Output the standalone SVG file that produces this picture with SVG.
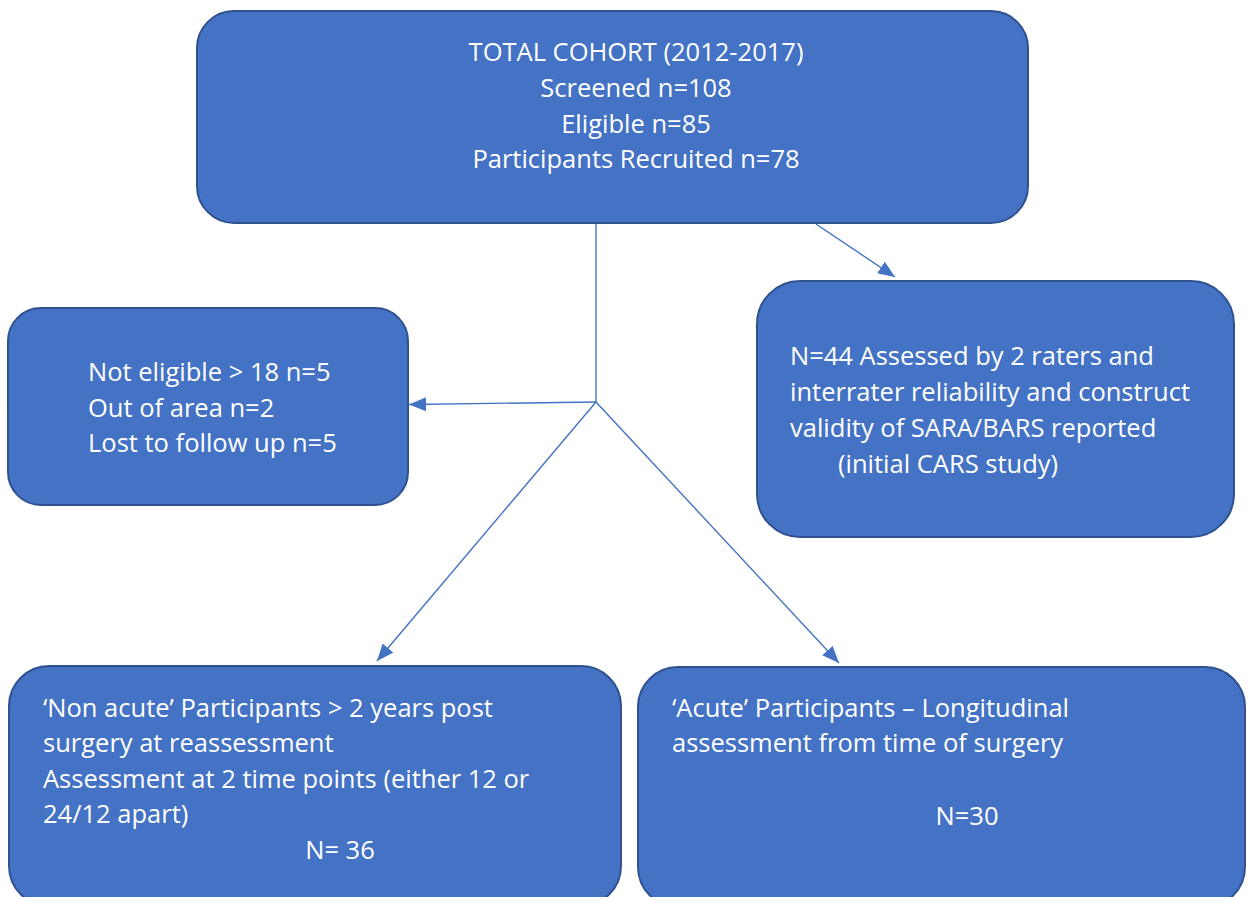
<svg xmlns="http://www.w3.org/2000/svg" width="1249" height="897" viewBox="0 0 1249 897">
  <style>
    .box { fill: #4472C4; stroke: #2F528F; stroke-width: 2; }
    .t { fill: #FFFFFF; font-family: "Open Sans", "Liberation Sans", sans-serif; font-size: 25.5px; }
    .c { text-anchor: middle; }
    .conn { stroke: #4472C4; stroke-width: 1.4; fill: none; }
  </style>
  <defs>
    <marker id="arrow" markerUnits="userSpaceOnUse" markerWidth="18" markerHeight="14" refX="17" refY="7" orient="auto">
      <path d="M0,0 L17,7 L0,14 Z" fill="#4472C4"/>
    </marker>
  </defs>
  <rect width="1249" height="897" fill="#FFFFFF"/>

  <g id="connectors">
    <line class="conn" x1="596" y1="224" x2="596" y2="402"/>
    <line class="conn" x1="596" y1="402" x2="409" y2="404.5" marker-end="url(#arrow)"/>
    <line class="conn" x1="596" y1="402" x2="377" y2="661" marker-end="url(#arrow)"/>
    <line class="conn" x1="596" y1="402" x2="839" y2="663" marker-end="url(#arrow)"/>
    <line class="conn" x1="816" y1="224" x2="895" y2="277" marker-end="url(#arrow)"/>
  </g>

  <g id="total-cohort">
    <rect class="box" x="197" y="11" width="831" height="212" rx="37" ry="37"/>
    <text class="t c" x="636" y="61">TOTAL COHORT (2012-2017)</text>
    <text class="t c" x="636" y="97">Screened n=108</text>
    <text class="t c" x="636" y="133">Eligible n=85</text>
    <text class="t c" x="636" y="168">Participants Recruited n=78</text>
  </g>

  <g id="excluded">
    <rect class="box" x="8" y="308" width="400" height="197" rx="33" ry="33"/>
    <text class="t" x="88" y="381">Not eligible &gt; 18 n=5</text>
    <text class="t" x="88" y="417">Out of area n=2</text>
    <text class="t" x="88" y="452">Lost to follow up n=5</text>
  </g>

  <g id="assessed-44">
    <rect class="box" x="757" y="281" width="477" height="256" rx="43" ry="43"/>
    <text class="t" x="790" y="365">N=44 Assessed by 2 raters and</text>
    <text class="t" x="790" y="401">interrater reliability and construct</text>
    <text class="t" x="790" y="437">validity of SARA/BARS reported</text>
    <text class="t" x="838" y="473">(initial CARS study)</text>
  </g>

  <g id="non-acute">
    <rect class="box" x="9" y="666" width="612" height="240" rx="40" ry="40"/>
    <text class="t" x="43" y="717">‘Non acute’ Participants &gt; 2 years post</text>
    <text class="t" x="43" y="752">surgery at reassessment</text>
    <text class="t" x="43" y="788">Assessment at 2 time points (either 12 or</text>
    <text class="t" x="43" y="823">24/12 apart)</text>
    <text class="t c" x="340" y="859">N= 36</text>
  </g>

  <g id="acute">
    <rect class="box" x="638" y="667" width="607" height="240" rx="40" ry="40"/>
    <text class="t" x="672" y="717">‘Acute’ Participants – Longitudinal</text>
    <text class="t" x="672" y="752">assessment from time of surgery</text>
    <text class="t c" x="967" y="825">N=30</text>
  </g>
</svg>
